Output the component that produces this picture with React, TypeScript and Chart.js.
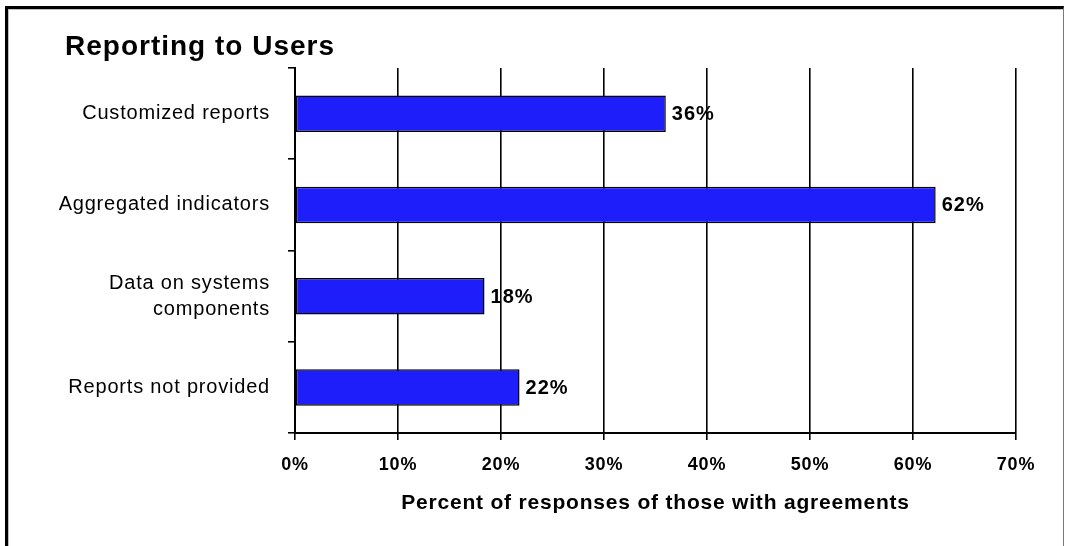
import React, { useEffect, useRef } from 'react';
import { Chart, registerables } from 'chart.js';

Chart.register(...registerables);

const categories: (string | string[])[] = [
  'Customized reports',
  'Aggregated indicators',
  ['Data on systems', 'components'],
  'Reports not provided',
];
const values = [36, 62.2, 18.4, 21.8];
const valueLabels = ['36%', '62%', '18%', '22%'];
const xTickValues = [0, 10, 20, 30, 40, 50, 60, 70];
const chartTitle = 'Reporting to Users';
const xAxisTitle = 'Percent of responses of those with agreements';

const FONT = '"Liberation Sans", Arial, sans-serif';

const spacingPlugin = {
  id: 'spacing',
  beforeDraw(chart: any) {
    chart.ctx.letterSpacing = '0.8px';
  },
};

const labelPlugin = {
  id: 'valueLabels',
  afterDraw(chart: any) {
    const ctx = chart.ctx;
    ctx.save();
    ctx.letterSpacing = '1px';
    ctx.fillStyle = '#000';
    ctx.textAlign = 'left';
    ctx.textBaseline = 'alphabetic';
    ctx.font = `bold 28px ${FONT}`;
    ctx.fillText(chartTitle, 65, 55);
    const meta = chart.getDatasetMeta(0);
    ctx.font = `bold 20px ${FONT}`;
    ctx.textBaseline = 'middle';
    meta.data.forEach((bar: any, i: number) => {
      ctx.fillText(valueLabels[i], bar.x + 6, bar.y + 1);
    });
    ctx.restore();
  },
};

export default function App() {
  const ref = useRef<HTMLCanvasElement | null>(null);

  useEffect(() => {
    if (!ref.current) return;
    const chart = new Chart(ref.current, {
      type: 'bar',
      data: {
        labels: categories as any,
        datasets: [
          {
            data: values,
            backgroundColor: '#1e1efa',
            borderColor: '#000',
            borderWidth: 1.5,
            borderSkipped: false,
            barPercentage: 0.4,
            categoryPercentage: 1,
          },
        ],
      },
      options: {
        indexAxis: 'y',
        animation: false,
        responsive: false,
        maintainAspectRatio: false,
        layout: { padding: { left: 0, top: 68, right: 50, bottom: 0 } },
        plugins: {
          legend: { display: false },
          tooltip: { enabled: false },
          title: { display: false },
        },
        scales: {
          x: {
            type: 'linear',
            min: 0,
            max: 70,
            afterBuildTicks(s: any) {
              s.ticks = xTickValues.map((v) => ({ value: v }));
            },
            ticks: {
              stepSize: 10,
              callback: (v: any) => v + '%',
              color: '#000',
              font: { family: FONT, size: 18, weight: 'bold' },
              padding: 14,
            },
            grid: { color: '#000', lineWidth: 1.6, tickLength: 7, drawOnChartArea: true },
            border: { display: true, color: '#000', width: 2 },
            title: {
              display: true,
              text: xAxisTitle,
              color: '#000',
              font: { family: FONT, size: 21, weight: 'bold' },
              padding: { top: 30, bottom: 30 },
            },
            afterFit(s: any) {
              s.height = 113;
            },
          } as any,
          y: {
            type: 'category',
            offset: true,
            grid: { offset: true, drawOnChartArea: false, color: '#000', lineWidth: 1.6, tickLength: 7 },
            border: { display: true, color: '#000', width: 2 },
            ticks: {
              color: '#000',
              font: { family: FONT, size: 20, lineHeight: 1.3 },
              padding: 18,
            },
            afterFit(s: any) {
              s.width = 295;
            },
          } as any,
        },
      },
      plugins: [spacingPlugin, labelPlugin],
    });
    return () => chart.destroy();
  }, []);

  return (
    <div>
      <div
        style={{
          position: 'fixed',
          left: 5,
          top: 6,
          width: 1055,
          height: 600,
          borderLeft: '3px solid #000',
          borderTop: '3px solid #000',
          borderRight: '1px solid #7a7a7a',
          boxShadow: 'inset 1px 1px 0 #c0c0c0',
          background: '#fff',
        }}
      />
      <canvas
        ref={ref}
        width={1066}
        height={546}
        style={{ position: 'fixed', left: 0, top: 0, width: 1066, height: 546, display: 'block' }}
      />
    </div>
  );
}
